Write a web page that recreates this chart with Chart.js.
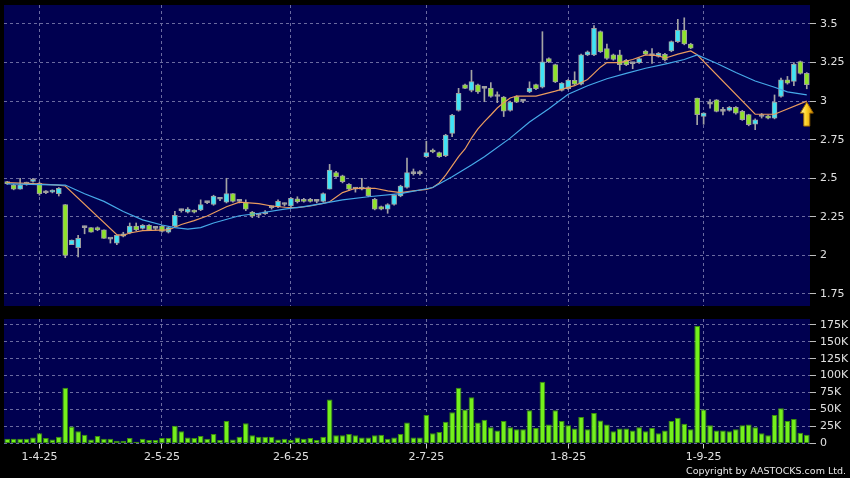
<!DOCTYPE html>
<html>
<head>
<meta charset="utf-8">
<script src="https://cdn.jsdelivr.net/npm/chart.js@4.4.1/dist/chart.umd.min.js"></script>
<style>
  html, body { margin: 0; padding: 0; background: #000; }
  #wrap { position: relative; width: 850px; height: 478px; background: #000; overflow: hidden; }
  #price { position: absolute; left: 0; top: 0; }
  #vol   { position: absolute; left: 0; top: 312px; }
  #copy  { position: absolute; right: 4px; top: 465px; font: 9.5px 'DejaVu Sans', sans-serif; color: #e8e8e8; }
</style>
</head>
<body>
<div id="wrap">
  <canvas id="price" width="850" height="312"></canvas>
  <canvas id="vol" width="850" height="166"></canvas>
  <div id="copy">Copyright by AASTOCKS.com Ltd.</div>
</div>
<script>
'use strict';

// trading days
var dates = [
  '25-3-25','26-3-25','27-3-25','28-3-25','31-3-25',
  '1-4-25','2-4-25','3-4-25','7-4-25','8-4-25','9-4-25','10-4-25','11-4-25','14-4-25','15-4-25',
  '16-4-25','17-4-25','22-4-25','23-4-25','24-4-25','25-4-25','28-4-25','29-4-25','30-4-25',
  '2-5-25','6-5-25','7-5-25','8-5-25','9-5-25','12-5-25','13-5-25','14-5-25','15-5-25','16-5-25',
  '19-5-25','20-5-25','21-5-25','22-5-25','23-5-25','26-5-25','27-5-25','28-5-25','29-5-25','30-5-25',
  '2-6-25','3-6-25','4-6-25','5-6-25','6-6-25','9-6-25','10-6-25','11-6-25','12-6-25','13-6-25',
  '16-6-25','17-6-25','18-6-25','19-6-25','20-6-25','23-6-25','24-6-25','25-6-25','26-6-25','27-6-25','30-6-25',
  '2-7-25','3-7-25','4-7-25','7-7-25','8-7-25','9-7-25','10-7-25','11-7-25','14-7-25','15-7-25',
  '16-7-25','17-7-25','18-7-25','21-7-25','22-7-25','23-7-25','24-7-25','25-7-25','28-7-25','29-7-25','30-7-25','31-7-25',
  '1-8-25','4-8-25','5-8-25','6-8-25','7-8-25','8-8-25','11-8-25','12-8-25','13-8-25','14-8-25','15-8-25',
  '18-8-25','19-8-25','20-8-25','21-8-25','22-8-25','25-8-25','26-8-25','27-8-25','28-8-25','29-8-25',
  '1-9-25','2-9-25','3-9-25','4-9-25','5-9-25','8-9-25','9-9-25','10-9-25','11-9-25','12-9-25',
  '15-9-25','16-9-25','17-9-25','18-9-25','19-9-25','22-9-25','23-9-25'
];
var tickDates = ['1-4-25', '2-5-25', '2-6-25', '2-7-25', '1-8-25', '1-9-25'];

var opens = [
  2.47, 2.455, 2.43, 2.463, 2.48, 2.467, 2.406, 2.41, 2.40, 2.33,
  2.07, 2.05, 2.18, 2.18, 2.18, 2.165, 2.105, 2.08, 2.125, 2.145,
  2.19, 2.175, 2.195, 2.175, 2.19, 2.15, 2.19, 2.29, 2.28, 2.29,
  2.295, 2.342, 2.33, 2.364, 2.345, 2.40, 2.35, 2.342, 2.28, 2.26,
  2.27, 2.31, 2.316, 2.33, 2.32, 2.366, 2.36, 2.36, 2.35, 2.35,
  2.43, 2.536, 2.515, 2.46, 2.43, 2.43, 2.44, 2.364, 2.316, 2.30,
  2.33, 2.385, 2.44, 2.53, 2.53, 2.64, 2.683, 2.666, 2.646, 2.79,
  2.94, 3.105, 3.07, 3.105, 3.083, 3.085, 3.03, 3.026, 2.94, 3.03,
  3.0, 3.06, 3.107, 3.09, 3.276, 3.237, 3.07, 3.08, 3.135, 3.11,
  3.30, 3.30, 3.45, 3.34, 3.30, 3.30, 3.265, 3.243, 3.25, 3.325,
  3.295, 3.289, 3.304, 3.325, 3.386, 3.461, 3.37, 3.02, 2.90, 2.98,
  3.009, 2.933, 2.94, 2.959, 2.933, 2.912, 2.85, 2.90, 2.905, 2.89,
  3.03, 3.138, 3.127, 3.257, 3.18
];
var closes = [
  2.465, 2.43, 2.455, 2.463, 2.49, 2.40, 2.406, 2.42, 2.435, 2.0,
  2.10, 2.11, 2.18, 2.15, 2.165, 2.11, 2.105, 2.13, 2.14, 2.19,
  2.165, 2.195, 2.165, 2.175, 2.155, 2.18, 2.26, 2.29, 2.30, 2.28,
  2.33, 2.342, 2.385, 2.364, 2.40, 2.35, 2.35, 2.30, 2.255, 2.26,
  2.28, 2.31, 2.35, 2.33, 2.37, 2.348, 2.35, 2.35, 2.35, 2.40,
  2.553, 2.51, 2.478, 2.43, 2.43, 2.44, 2.387, 2.30, 2.30, 2.33,
  2.39, 2.45, 2.536, 2.53, 2.53, 2.666, 2.67, 2.64, 2.78, 2.91,
  3.05, 3.083, 3.126, 3.06, 3.083, 3.03, 3.03, 2.935, 2.993, 2.993,
  3.0, 3.085, 3.08, 3.254, 3.254, 3.124, 3.117, 3.135, 3.11, 3.30,
  3.32, 3.472, 3.32, 3.276, 3.27, 3.237, 3.237, 3.243, 3.276, 3.304,
  3.295, 3.31, 3.267, 3.386, 3.461, 3.37, 3.343, 2.912, 2.922, 2.98,
  2.933, 2.933, 2.959, 2.922, 2.879, 2.847, 2.879, 2.90, 2.89, 2.994,
  3.138, 3.116, 3.24, 3.18, 3.106
];
var highs = [
  2.48, 2.46, 2.50, 2.475, 2.50, 2.475, 2.42, 2.425, 2.44, 2.33,
  2.10, 2.13, 2.19, 2.18, 2.185, 2.165, 2.11, 2.13, 2.15, 2.21,
  2.21, 2.20, 2.20, 2.18, 2.195, 2.185, 2.285, 2.30, 2.31, 2.295,
  2.36, 2.35, 2.39, 2.375, 2.50, 2.40, 2.36, 2.36, 2.285, 2.27,
  2.29, 2.32, 2.36, 2.34, 2.375, 2.38, 2.37, 2.37, 2.36, 2.405,
  2.59, 2.545, 2.52, 2.465, 2.44, 2.50, 2.445, 2.37, 2.32, 2.335,
  2.395, 2.455, 2.63, 2.56, 2.55, 2.74, 2.69, 2.67, 2.785, 2.915,
  3.083, 3.11, 3.20, 3.11, 3.09, 3.12, 3.06, 3.03, 3.0, 3.035,
  3.01, 3.125, 3.11, 3.45, 3.28, 3.24, 3.12, 3.14, 3.19, 3.305,
  3.325, 3.49, 3.455, 3.37, 3.305, 3.33, 3.27, 3.25, 3.28, 3.33,
  3.34, 3.315, 3.31, 3.39, 3.53, 3.54, 3.375, 3.02, 2.925, 3.01,
  3.01, 2.96, 2.965, 2.965, 2.94, 2.915, 2.885, 2.92, 2.91, 3.04,
  3.15, 3.16, 3.25, 3.26, 3.185
];
var lows = [
  2.46, 2.425, 2.43, 2.455, 2.475, 2.39, 2.40, 2.405, 2.385, 1.985,
  2.07, 1.99, 2.14, 2.15, 2.16, 2.11, 2.08, 2.07, 2.12, 2.14,
  2.16, 2.17, 2.16, 2.165, 2.15, 2.145, 2.185, 2.28, 2.275, 2.275,
  2.29, 2.335, 2.325, 2.355, 2.34, 2.345, 2.34, 2.29, 2.245, 2.245,
  2.265, 2.30, 2.31, 2.32, 2.31, 2.34, 2.345, 2.345, 2.34, 2.345,
  2.43, 2.505, 2.47, 2.42, 2.41, 2.425, 2.38, 2.295, 2.295, 2.273,
  2.325, 2.38, 2.435, 2.52, 2.52, 2.635, 2.665, 2.635, 2.64, 2.77,
  2.935, 3.08, 3.06, 3.05, 2.996, 3.025, 2.99, 2.90, 2.935, 2.99,
  2.99, 3.055, 3.075, 3.085, 3.25, 3.12, 3.065, 3.075, 3.105, 3.105,
  3.295, 3.295, 3.315, 3.27, 3.265, 3.20, 3.23, 3.21, 3.245, 3.30,
  3.245, 3.285, 3.26, 3.32, 3.38, 3.365, 3.34, 2.847, 2.85, 2.955,
  2.93, 2.91, 2.935, 2.915, 2.875, 2.84, 2.815, 2.89, 2.885, 2.885,
  3.025, 3.11, 3.10, 3.175, 3.08
];
// volume, thousands of shares
var volumes = [
  7, 7, 7, 7, 9, 15, 8, 6, 10, 82,
  25, 18, 13, 6, 11, 7, 7, 4, 4, 8,
  2.5, 7, 5, 5, 8, 8, 26, 18, 9, 8,
  11, 7, 14, 5, 33, 6, 10, 30, 12, 10,
  10, 10, 6, 7, 5, 9, 7, 8, 5, 10,
  65, 12, 12, 14, 12, 9, 9, 12, 13, 7,
  9, 14, 31, 9, 9, 42, 15, 17, 32, 46,
  82, 50, 68, 31, 35, 24, 19, 33, 24, 21,
  21, 49, 23, 91, 28, 49, 33, 27, 22, 39,
  21, 45, 34, 28, 18, 22, 22, 19, 24, 18,
  23, 15, 19, 33, 38, 29, 21, 173, 50, 27,
  19, 19, 18, 21, 27, 28, 24, 15, 12, 42,
  52, 33, 36, 16, 13
];

// moving averages (index of day, value)
var maShortIdx = [0, 4, 8, 9, 17, 18, 19, 21, 25, 27, 29, 31, 34, 36, 39, 41, 43, 45, 47, 49, 50, 52, 54, 57, 59, 61, 63, 65,
  66, 67, 68, 69, 70, 71, 72, 73, 74, 75, 76, 77, 78, 79, 82, 85, 88, 90, 91, 92, 93, 95, 97, 99, 101, 102, 104, 106, 107,
  116, 119, 124];
var maShortVal = [2.472, 2.465, 2.455, 2.45, 2.135, 2.13, 2.145, 2.16, 2.165, 2.20, 2.225, 2.255, 2.315, 2.345, 2.335, 2.32,
  2.312, 2.31, 2.32, 2.337, 2.348, 2.407, 2.435, 2.435, 2.418, 2.407, 2.418, 2.428,
  2.44, 2.47, 2.52, 2.58, 2.64, 2.69, 2.76, 2.82, 2.867, 2.91, 2.955, 2.99, 3.02, 3.033, 3.033, 3.065, 3.10, 3.14, 3.18,
  3.22, 3.25, 3.25, 3.27, 3.30, 3.295, 3.278, 3.305, 3.325, 3.30,
  2.915, 2.915, 3.0];
var maLongIdx = [0, 9, 12, 15, 18, 21, 24, 26, 28, 30, 32, 36, 39, 43, 46, 49, 52, 56, 61, 64, 66, 69, 72, 74, 78, 81, 84,
  87, 90, 93, 96, 99, 102, 105, 107, 110, 113, 116, 119, 121, 124];
var maLongVal = [2.463, 2.456, 2.40, 2.35, 2.285, 2.23, 2.197, 2.18, 2.17, 2.18, 2.21, 2.257, 2.273, 2.30, 2.316, 2.337,
  2.36, 2.38, 2.40, 2.424, 2.44, 2.51, 2.586, 2.64, 2.76, 2.865, 2.95,
  3.045, 3.10, 3.145, 3.18, 3.213, 3.24, 3.27, 3.30, 3.245, 3.185, 3.13, 3.09, 3.06, 3.04];

var priceTicks = [1.75, 2, 2.25, 2.5, 2.75, 3, 3.25, 3.5];
var volTicks   = [0, 25, 50, 75, 100, 125, 150, 175];

var NAVY   = '#000050',
    GRID   = '#6a6aa0',
    CYAN   = '#3fe3f6',
    GREEN  = '#8ee32a',
    GREY   = '#a8a8a8',
    TEXT   = '#e0e0e0',
    FONT   = { family: 'DejaVu Sans', size: 11 };

var N = dates.length;
var tickIdx = tickDates.map(function (d) { return dates.indexOf(d); });

function spread(idx, val) {
  var arr = dates.map(function () { return null; });
  idx.forEach(function (k, j) { arr[k] = val[j]; });
  return arr;
}

var bodyColors = opens.map(function (o, i) {
  return closes[i] > o ? CYAN : (closes[i] < o ? GREEN : GREY);
});

var navyBg = {
  id: 'navyBg',
  beforeDraw: function (chart) {
    var a = chart.chartArea, ctx = chart.ctx;
    ctx.save();
    ctx.fillStyle = NAVY;
    ctx.fillRect(a.left, a.top, a.right - a.left, a.bottom - a.top);
    ctx.restore();
  }
};

// yellow arrow under the end of the short average
var arrow = {
  id: 'arrow',
  afterDatasetsDraw: function (chart) {
    var ctx = chart.ctx,
        px  = chart.scales.x.getPixelForValue(N - 1),
        py  = chart.scales.y.getPixelForValue(maShortVal[maShortVal.length - 1]);
    ctx.save();
    var g = ctx.createLinearGradient(px - 6, 0, px + 6, 0);
    g.addColorStop(0, '#fff6b0');
    g.addColorStop(0.45, '#ffd428');
    g.addColorStop(1, '#d48c00');
    ctx.beginPath();
    ctx.moveTo(px, py + 1);
    ctx.lineTo(px + 6.5, py + 12);
    ctx.lineTo(px + 3, py + 12);
    ctx.lineTo(px + 3, py + 25);
    ctx.lineTo(px - 3, py + 25);
    ctx.lineTo(px - 3, py + 12);
    ctx.lineTo(px - 6.5, py + 12);
    ctx.closePath();
    ctx.fillStyle = g;
    ctx.fill();
    ctx.strokeStyle = '#9a6400';
    ctx.lineWidth = 1;
    ctx.stroke();
    ctx.restore();
  }
};

function gridAt(ctx) {
  return tickIdx.indexOf(ctx.index) >= 0 ? GRID : 'rgba(0,0,0,0)';
}

function xAxis(showLabels) {
  return {
    type : 'category',
    offset : true,
    border : { display: false, dash: [3, 3] },
    grid : {
      offset : false,
      color : gridAt,
      drawTicks : showLabels,
      tickLength : 5,
      tickBorderDash : [],
      tickColor : function (ctx) { return tickIdx.indexOf(ctx.index) >= 0 ? '#cfcfcf' : 'rgba(0,0,0,0)'; }
    },
    ticks : {
      display : showLabels,
      autoSkip : false,
      maxRotation : 0,
      padding : 2,
      color : TEXT,
      font : FONT,
      callback : function (v, i) { return tickIdx.indexOf(i) >= 0 ? dates[i] : ''; }
    },
    afterFit : function (s) {
      s.height = showLabels ? 20 : 0;
      s.paddingLeft = 0;
      s.paddingRight = 0;
    }
  };
}

function yAxis(min, max, ticks, fmt) {
  return {
    position : 'right',
    min : min,
    max : max,
    border : { display: false, dash: [3, 3] },
    grid : { color: GRID, tickLength: 6, tickBorderDash: [], tickColor: '#bdbdbd' },
    ticks : { color: TEXT, font: FONT, padding: 4, callback: fmt },
    afterBuildTicks : function (s) { s.ticks = ticks.map(function (v) { return { value: v }; }); },
    afterFit : function (s) { s.width = 40; s.paddingTop = 0; s.paddingBottom = 0; }
  };
}

var datosPrecio = {
  type : 'bar',
  data : {
    labels : dates,
    datasets : [{
      label : 'wick',
      data : lows.map(function (l, i) { return [l, highs[i]]; }),
      backgroundColor : '#a4a4a4',
      barThickness : 1,
      grouped : false,
      order : 3
    }, {
      label : 'body',
      data : opens.map(function (o, i) { return [o, closes[i]]; }),
      backgroundColor : bodyColors,
      borderColor : '#a0a0a0',
      borderWidth : 1,
      borderSkipped : false,
      barThickness : 5,
      minBarLength : 2,
      grouped : false,
      order : 2
    }, {
      type : 'line',
      label : 'MA short',
      data : spread(maShortIdx, maShortVal),
      borderColor : '#e99b5e',
      borderWidth : 1.2,
      pointRadius : 0,
      spanGaps : true,
      tension : 0,
      order : 1
    }, {
      type : 'line',
      label : 'MA long',
      data : spread(maLongIdx, maLongVal),
      borderColor : '#46a9e8',
      borderWidth : 1.2,
      pointRadius : 0,
      spanGaps : true,
      tension : 0,
      order : 0
    }]
  },
  options : {
    responsive : false,
    animation : false,
    devicePixelRatio : 1,
    layout : { padding: { left: 4, top: 5, right: 0, bottom: 6 } },
    plugins : { legend: { display: false }, tooltip: { enabled: false } },
    scales : {
      x : xAxis(false),
      y : yAxis(1.672, 3.623, priceTicks, function (v) { return String(v); })
    }
  },
  plugins : [navyBg, arrow]
};

var datosVolumen = {
  type : 'bar',
  data : {
    labels : dates,
    datasets : [{
      label : 'volume',
      data : volumes,
      backgroundColor : '#74f01c',
      borderColor : '#3b8e0c',
      borderWidth : 1,
      borderSkipped : false,
      categoryPercentage : 1,
      barPercentage : 0.88
    }]
  },
  options : {
    responsive : false,
    animation : false,
    devicePixelRatio : 1,
    layout : { padding: { left: 4, top: 7, right: 0, bottom: 14.5 } },
    plugins : { legend: { display: false }, tooltip: { enabled: false } },
    scales : {
      x : xAxis(true),
      y : yAxis(0, 183.4, volTicks, function (v) { return v === 0 ? '0' : v + 'K'; })
    }
  },
  plugins : [navyBg]
};

window.precio  = new Chart(document.getElementById('price').getContext('2d'), datosPrecio);
window.volumen = new Chart(document.getElementById('vol').getContext('2d'), datosVolumen);
</script>
</body>
</html>
